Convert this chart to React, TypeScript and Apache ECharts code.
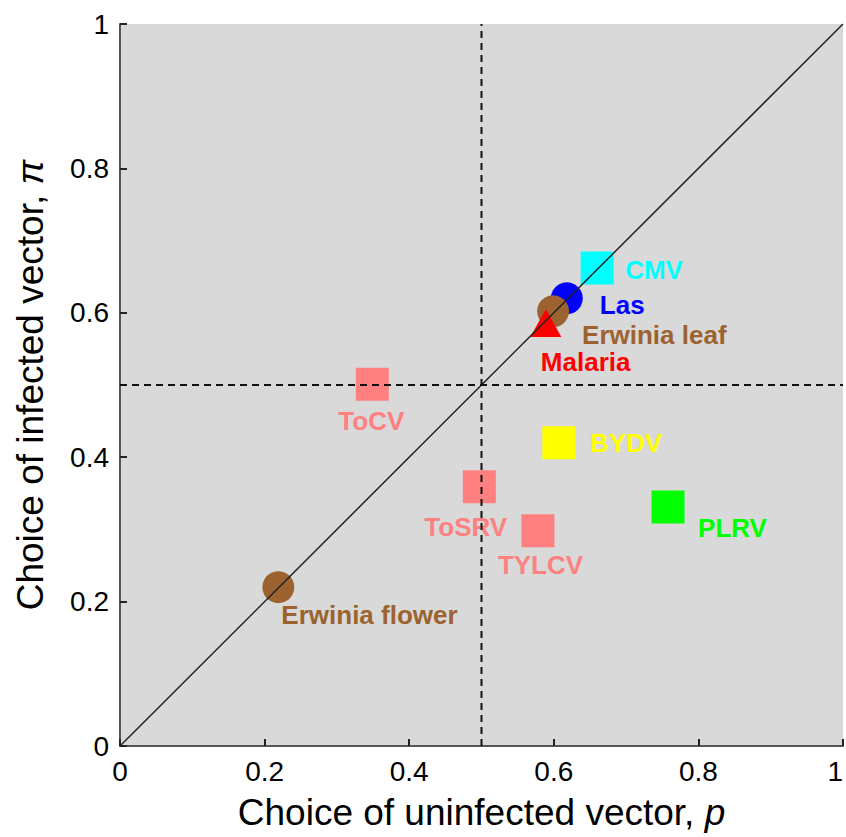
import React, { useEffect, useRef } from "react";
import * as echarts from "echarts";

const names = ["CMV", "Las", "Erwinia leaf", "Malaria", "ToCV", "BYDV", "ToSRV", "TYLCV", "PLRV", "Erwinia flower"];
const pValues = [0.66, 0.618, 0.599, 0.589, 0.349, 0.607, 0.497, 0.578, 0.758, 0.219];
const piValues = [0.662, 0.62, 0.602, 0.586, 0.501, 0.42, 0.359, 0.298, 0.331, 0.22];
const tickValues = [0, 0.2, 0.4, 0.6, 0.8, 1];

const styles: Record<string, { color: string; symbol: string; size: number | number[]; offset: number[] }> = {
  "CMV": { color: "#00ffff", symbol: "rect", size: 33, offset: [28, 2] },
  "Las": { color: "#0000ff", symbol: "circle", size: 32, offset: [33, 7] },
  "Erwinia leaf": { color: "#9c6330", symbol: "circle", size: 32, offset: [29, 24] },
  "Malaria": { color: "#ff0000", symbol: "triangle", size: [31, 28], offset: [-5, 39] },
  "ToCV": { color: "#ff8080", symbol: "rect", size: 33, offset: [-34, 37] },
  "BYDV": { color: "#ffff00", symbol: "rect", size: 33, offset: [31, 0] },
  "ToSRV": { color: "#ff8080", symbol: "rect", size: 33, offset: [-55, 40] },
  "TYLCV": { color: "#ff8080", symbol: "rect", size: 33, offset: [-40, 34] },
  "PLRV": { color: "#00ff00", symbol: "rect", size: 33, offset: [30, 21] },
  "Erwinia flower": { color: "#9c6330", symbol: "circle", size: 32, offset: [3, 28] },
};

const FONT = "'Liberation Sans', Arial, sans-serif";

export default function App() {
  const ref = useRef<HTMLDivElement>(null);
  useEffect(() => {
    const chart = echarts.init(ref.current!, null, { renderer: "svg" });
    const scatterData = names.map((n, i) => {
      const s = styles[n];
      return {
        name: n,
        value: [pValues[i], piValues[i]],
        symbol: s.symbol,
        symbolSize: s.size,
        itemStyle: { color: s.color, opacity: 1 },
        label: {
          show: true,
          formatter: n,
          position: "inside",
          offset: s.offset,
          align: "left",
          verticalAlign: "middle",
          color: s.color,
          fontFamily: FONT,
          fontWeight: "bold",
          fontSize: 26,
        },
      };
    });
    const axisLabelBase = {
      color: "#000",
      fontFamily: FONT,
      fontSize: 28,
      margin: 11,
      formatter: (v: number) => {
        const t = tickValues.find((x) => Math.abs(x - v) < 1e-9);
        return t === undefined ? "" : String(t);
      },
    };
    const axisCommon = {
      type: "value" as const,
      min: 0,
      max: 1,
      interval: 0.2,
      axisLine: { show: true, lineStyle: { color: "#555", width: 2 } },
      axisTick: { show: true, inside: true, length: 7, lineStyle: { color: "#222", width: 2 } },
      splitLine: { show: false },
      nameLocation: "middle" as const,
    };
    chart.setOption({
      animation: false,
      grid: {
        left: 120,
        top: 24,
        right: 3,
        bottom: 91,
        show: true,
        backgroundColor: "#d9d9d9",
        borderWidth: 0,
        containLabel: false,
        outerBoundsMode: "none",
      },
      xAxis: {
        ...axisCommon,
        axisLabel: { ...axisLabelBase, alignMaxLabel: "right" },
        name: "Choice of uninfected vector, {i|p}",
        nameGap: 48,
        nameTextStyle: {
          color: "#000",
          fontFamily: FONT,
          fontSize: 37,
          rich: { i: { fontStyle: "italic", fontFamily: FONT, fontSize: 37, color: "#000" } },
        },
      },
      yAxis: {
        ...axisCommon,
        axisLabel: axisLabelBase,
        name: "Choice of infected vector, {i|π}",
        nameGap: 71,
        nameTextStyle: {
          color: "#000",
          fontFamily: FONT,
          fontSize: 37,
          rich: { i: { fontStyle: "italic", fontFamily: FONT, fontSize: 37, color: "#000" } },
        },
      },
      series: [
        {
          type: "scatter",
          data: scatterData,
          z: 2,
        },
        {
          type: "line",
          data: [[0, 0], [1, 1]],
          symbol: "none",
          lineStyle: { color: "#222", width: 1.5 },
          z: 5,
          silent: true,
        },
        {
          type: "line",
          data: [[0.5, 0], [0.5, 1]],
          symbol: "none",
          lineStyle: { color: "#111", width: 2, type: [7, 5] },
          z: 5,
          silent: true,
        },
        {
          type: "line",
          data: [[0, 0.5], [1, 0.5]],
          symbol: "none",
          lineStyle: { color: "#111", width: 2, type: [7, 5] },
          z: 5,
          silent: true,
        },
      ],
    });
    return () => chart.dispose();
  }, []);
  return (
    <div
      ref={ref}
      style={{ position: "fixed", left: 0, top: 0, width: 846, height: 837, background: "#fff" }}
    />
  );
}
